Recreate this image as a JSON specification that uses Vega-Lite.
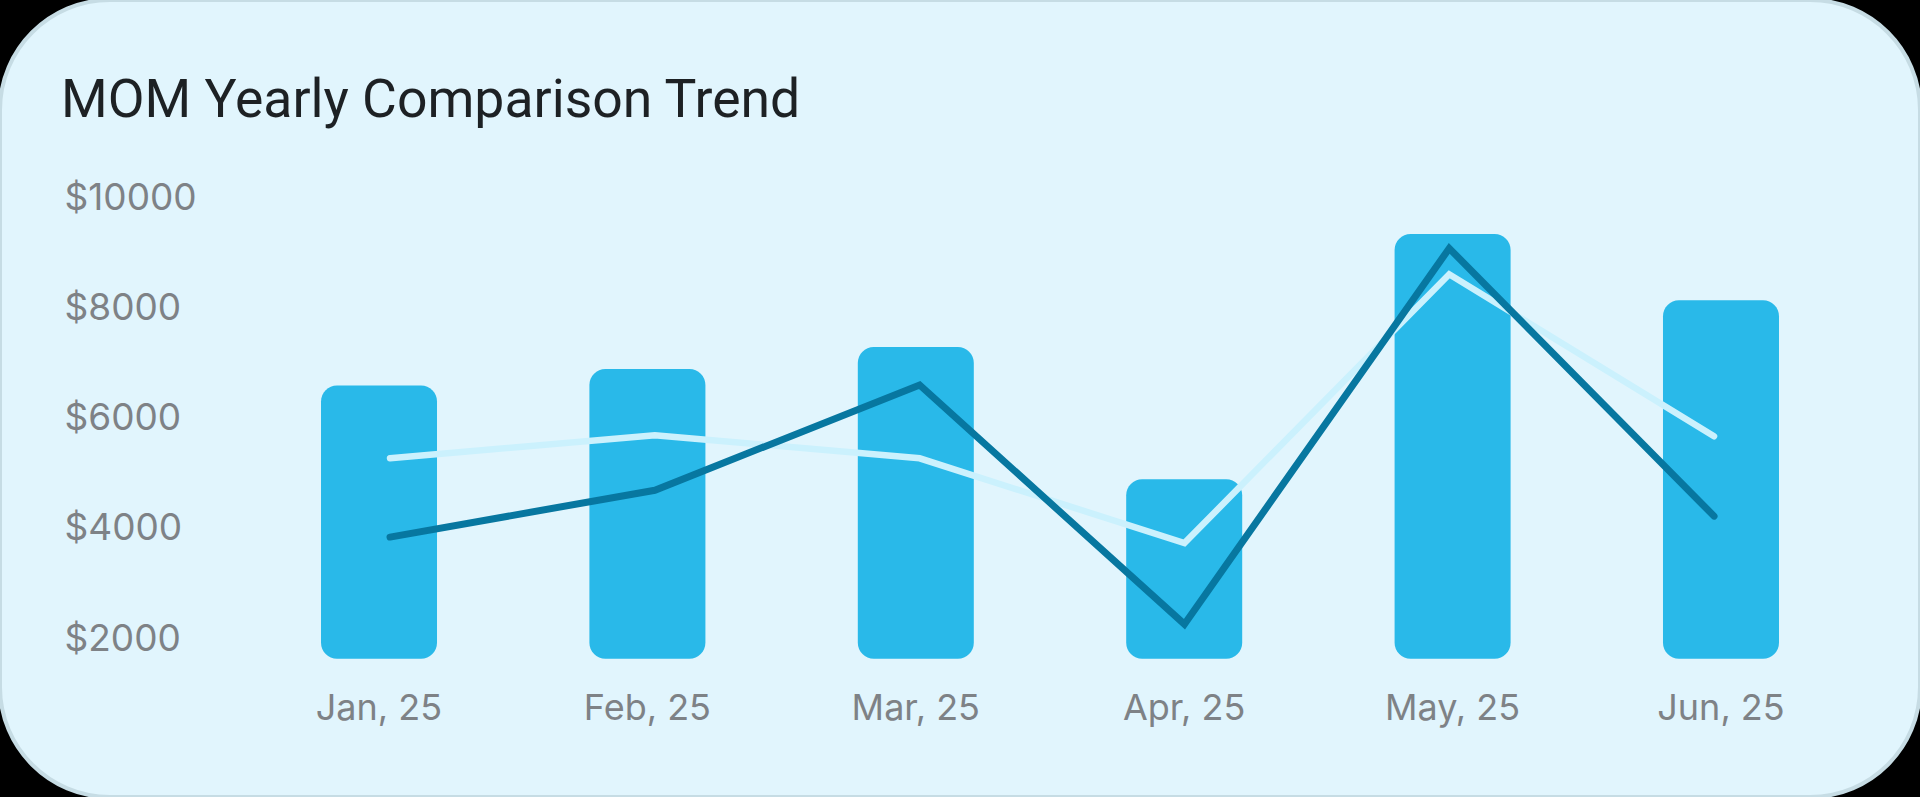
{
  "$schema": "https://vega.github.io/schema/vega-lite/v6.json",
  "width": 1920,
  "height": 797,
  "autosize": {"type": "none"},
  "padding": 0,
  "background": "#000000",
  "view": {"fill": "#E1F5FD", "stroke": "#C6DCE4", "strokeWidth": 4, "cornerRadius": 110},
  "title": {
    "text": "MOM Yearly Comparison Trend",
    "anchor": "start",
    "frame": "group",
    "orient": "top",
    "baseline": "alphabetic",
    "offset": -170,
    "dx": 61,
    "font": "Roboto",
    "fontSize": 53.5,
    "fontWeight": 400,
    "color": "#1D2124"
  },
  "data": {
    "values": [
      {"month": "Jan, 25", "amount": 6600, "previous": 5280, "current": 3850},
      {"month": "Feb, 25", "amount": 6900, "previous": 5700, "current": 4700},
      {"month": "Mar, 25", "amount": 7300, "previous": 5280, "current": 6610},
      {"month": "Apr, 25", "amount": 4900, "previous": 3740, "current": 2270},
      {"month": "May, 25", "amount": 9350, "previous": 8620, "current": 9090},
      {"month": "Jun, 25", "amount": 8150, "previous": 5680, "current": 4230}
    ]
  },
  "layer": [
    {
      "mark": {"type": "bar", "color": "#29B9E9", "cornerRadius": 16},
      "encoding": {
        "x": {
          "field": "month", "type": "nominal", "sort": null,
          "scale": {"type": "band", "paddingInner": 0.5678, "paddingOuter": 0.8607, "align": 0.6948},
          "axis": {
            "title": null, "domain": false, "ticks": false, "grid": false,
            "offset": -89, "labelPadding": 0, "labelBaseline": "middle", "labelAngle": 0,
            "labelFont": "Inter", "labelFontSize": 36, "labelColor": "#7E8286"
          }
        },
        "y": {
          "field": "amount", "type": "quantitative",
          "scale": {"domain": [-867, 13597], "nice": false, "zero": false},
          "axis": {
            "title": null, "domain": false, "ticks": false, "grid": false,
            "values": [2000, 4000, 6000, 8000, 10000],
            "labelExpr": "'$' + datum.value",
            "labelAlign": "left", "labelBaseline": "middle", "labelPadding": -64,
            "labelFont": "Inter", "labelFontSize": 37, "labelColor": "#7E8286"
          }
        },
        "y2": {"datum": 1640}
      }
    },
    {
      "mark": {"type": "line", "color": "#CBF1FD", "strokeWidth": 6.5, "strokeCap": "round", "strokeJoin": "miter"},
      "encoding": {
        "x": {
          "field": "month", "type": "nominal", "sort": null,
          "scale": {"type": "band", "paddingInner": 0.5, "paddingOuter": 0.8754, "align": 0.6985},
          "axis": null
        },
        "y": {"field": "previous", "type": "quantitative"}
      }
    },
    {
      "mark": {"type": "line", "color": "#0777A0", "strokeWidth": 7, "strokeCap": "round", "strokeJoin": "miter"},
      "encoding": {
        "x": {
          "field": "month", "type": "nominal", "sort": null,
          "scale": {"type": "band", "paddingInner": 0.5, "paddingOuter": 0.8754, "align": 0.6985},
          "axis": null
        },
        "y": {"field": "current", "type": "quantitative"}
      }
    }
  ],
  "resolve": {"scale": {"x": "independent"}, "axis": {"x": "independent"}}
}
